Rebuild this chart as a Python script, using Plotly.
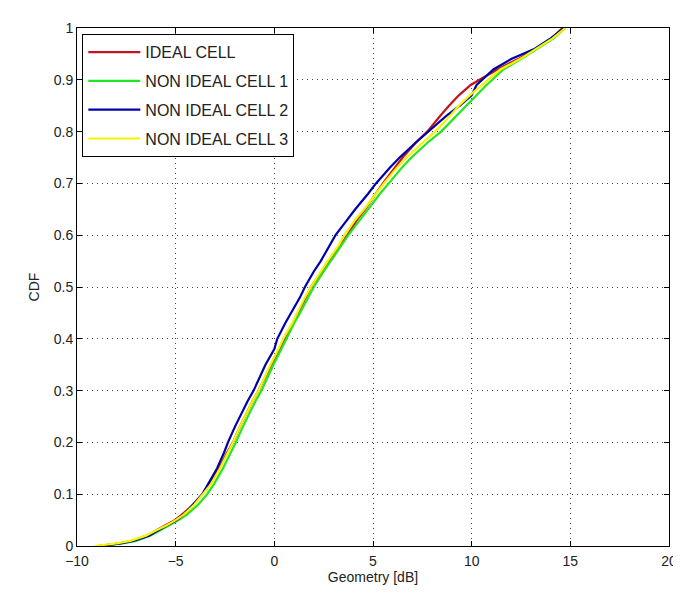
import plotly.graph_objects as go

# CDF levels (shared by all series)
cdf_levels = [0, 0.005, 0.01, 0.02, 0.03, 0.04, 0.05, 0.06, 0.08, 0.10, 0.12, 0.15, 0.18, 0.20,
              0.23, 0.25, 0.28, 0.30, 0.33, 0.35, 0.38, 0.40, 0.43, 0.45, 0.48, 0.50, 0.53, 0.55,
              0.58, 0.60, 0.63, 0.65, 0.68, 0.70, 0.73, 0.75, 0.78, 0.80, 0.83, 0.85, 0.87, 0.89,
              0.90, 0.92, 0.94, 0.96, 0.98, 1.00]

# Geometry [dB] at each CDF level
geo_ideal = [-8.9, -7.8, -7.2, -6.45, -6.0, -5.5, -5.05, -4.7, -4.1, -3.65, -3.3, -2.8, -2.4, -2.1,
             -1.75, -1.5, -1.1, -0.8, -0.4, -0.15, 0.3, 0.55, 0.95, 1.2, 1.6, 1.85, 2.4, 2.75,
             3.3, 3.7, 4.2, 4.6, 5.15, 5.5, 6.1, 6.5, 7.2, 7.75, 8.4, 8.85, 9.35, 9.95,
             10.4, 11.3, 12.35, 13.25, 14.05, 14.6]
geo_nic1 = [-8.8, -7.7, -7.0, -6.3, -5.8, -5.3, -4.85, -4.45, -3.85, -3.4, -3.05, -2.6, -2.2, -1.95,
            -1.6, -1.35, -0.95, -0.65, -0.3, -0.05, 0.35, 0.6, 1.0, 1.3, 1.7, 2.0, 2.5, 2.85,
            3.4, 3.75, 4.35, 4.75, 5.35, 5.8, 6.45, 6.95, 7.8, 8.45, 9.2, 9.7, 10.2, 10.75,
            11.05, 11.6, 12.5, 13.35, 14.15, 14.75]
geo_nic2 = [-8.9, -7.8, -7.15, -6.35, -5.9, -5.4, -4.95, -4.6, -4.1, -3.65, -3.35, -2.9, -2.55, -2.35,
            -2.0, -1.75, -1.35, -1.05, -0.7, -0.45, 0.0, 0.15, 0.55, 0.85, 1.3, 1.55, 2.0, 2.35,
            2.8, 3.1, 3.7, 4.1, 4.75, 5.15, 5.85, 6.35, 7.2, 7.8, 8.7, 9.4, 10.0, 10.25,
            10.55, 11.1, 12.0, 13.2, 14.0, 14.7]
geo_nic3 = [-9.1, -8.0, -7.3, -6.5, -6.0, -5.45, -5.0, -4.6, -4.05, -3.6, -3.2, -2.75, -2.35, -2.1,
            -1.75, -1.5, -1.1, -0.8, -0.45, -0.2, 0.2, 0.45, 0.9, 1.15, 1.55, 1.85, 2.35, 2.7,
            3.25, 3.55, 4.1, 4.55, 5.15, 5.55, 6.2, 6.7, 7.55, 8.15, 8.9, 9.35, 9.9, 10.5,
            10.8, 11.45, 12.45, 13.3, 14.1, 14.75]

series_names = ["IDEAL CELL", "NON IDEAL CELL 1", "NON IDEAL CELL 2", "NON IDEAL CELL 3"]
series_x = [geo_ideal, geo_nic1, geo_nic2, geo_nic3]
series_colors = ["#c0141e", "#22e622", "#0000a8", "#f5f500"]

x_ticks = [-10, -5, 0, 5, 10, 15, 20]
y_ticks = [0, 0.1, 0.2, 0.3, 0.4, 0.5, 0.6, 0.7, 0.8, 0.9, 1]
y_tick_text = ["0", "0.1", "0.2", "0.3", "0.4", "0.5", "0.6", "0.7", "0.8", "0.9", "1"]

fig = go.Figure()
for name, xs, col in zip(series_names, series_x, series_colors):
    fig.add_trace(go.Scatter(x=xs, y=cdf_levels, mode="lines", name=name,
                             legendgroup=name,
                             line=dict(color=col, width=2.2)))

font_family = "Liberation Sans, Arial, sans-serif"
axis_common = dict(showline=True, linecolor="black", linewidth=1, mirror="ticks",
                   ticks="inside", ticklen=5, tickcolor="black",
                   showgrid=True, gridcolor="#444444", griddash="1px,4px", gridwidth=1,
                   zeroline=False, tickfont=dict(family=font_family, size=14, color="#222222"))

fig.update_layout(
    width=681, height=594,
    margin=dict(l=69, r=12, t=16, b=56),
    paper_bgcolor="white", plot_bgcolor="white",
    font=dict(family=font_family, size=14, color="#222222"),
    showlegend=True,
    legend=dict(x=0.009, y=0.988, xanchor="left", yanchor="top",
                bgcolor="white", bordercolor="black", borderwidth=1,
                font=dict(family=font_family, size=16, color="#222222"),
                tracegroupgap=5, itemwidth=52),
    xaxis=dict(range=[-10, 20], tickvals=x_ticks, ticklabelstandoff=2,
               title=dict(text="Geometry [dB]", standoff=4,
                          font=dict(family=font_family, size=14, color="#222222")),
               **axis_common),
    yaxis=dict(range=[0, 1], tickvals=y_ticks, ticktext=y_tick_text,
               title=dict(text="CDF", standoff=10,
                          font=dict(family=font_family, size=14, color="#222222")),
               **axis_common),
)

fig.write_html("out.html")
